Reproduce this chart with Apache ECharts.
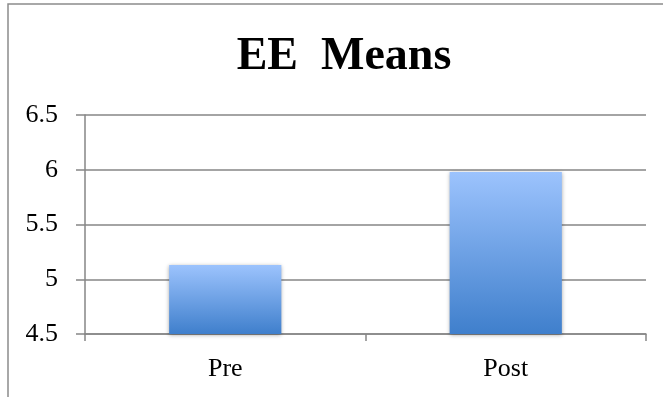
<!DOCTYPE html>
<html><head><meta charset="utf-8">
<script src="https://cdn.jsdelivr.net/npm/echarts@6/dist/echarts.min.js"></script>
<style>html,body{margin:0;padding:0;background:#fff}#c{width:663px;height:397px}</style>
</head><body><div id="c"></div>
<script>
const categories = ['Pre', 'Post'];
const meanValues = [5.13, 5.98];
const yTicks = [4.5, 5, 5.5, 6, 6.5];

const chart = echarts.init(document.getElementById('c'), null, {renderer: 'canvas'});
const serif = '"Liberation Serif", "DejaVu Serif", serif';
chart.setOption({
  animation: false,
  title: {
    text: 'EE  Means', left: 339, top: 29, textAlign: 'center',
    textStyle: {fontFamily: serif, fontWeight: 'bold', fontSize: 46, color: '#000'}
  },
  graphic: [{
    type: 'rect', shape: {x: 8, y: 4, width: 720, height: 450},
    style: {fill: 'none', stroke: '#8c8c8c', lineWidth: 1.5}, silent: true
  }],
  grid: {left: 85, right: 17, top: 115, bottom: 63},
  xAxis: {
    type: 'category', data: categories,
    axisLine: {show: true, lineStyle: {color: '#868686', width: 1.5}},
    axisTick: {show: true, length: 7, lineStyle: {color: '#868686', width: 1.5}},
    axisLabel: {fontFamily: serif, fontSize: 26, color: '#000', margin: 22}
  },
  yAxis: {
    type: 'value', min: yTicks[0], max: yTicks[yTicks.length - 1], interval: 0.5,
    axisLine: {show: true, lineStyle: {color: '#868686', width: 1.5}},
    axisTick: {show: true, length: 9, lineStyle: {color: '#868686', width: 1.5}},
    splitLine: {show: true, lineStyle: {color: '#868686', width: 1.5}},
    axisLabel: {fontFamily: serif, fontSize: 26, color: '#000', margin: 27,
      formatter: v => String(v)}
  },
  series: [{
    type: 'bar', data: meanValues, barWidth: '40%',
    itemStyle: {
      color: new echarts.graphic.LinearGradient(0, 0, 0, 1, [
        {offset: 0, color: '#9cc3fd'}, {offset: 1, color: '#3f7fcc'}
      ]),
      shadowColor: 'rgba(0,0,0,0.35)', shadowBlur: 4, shadowOffsetY: 1
    }
  }]
});
</script></body></html>
